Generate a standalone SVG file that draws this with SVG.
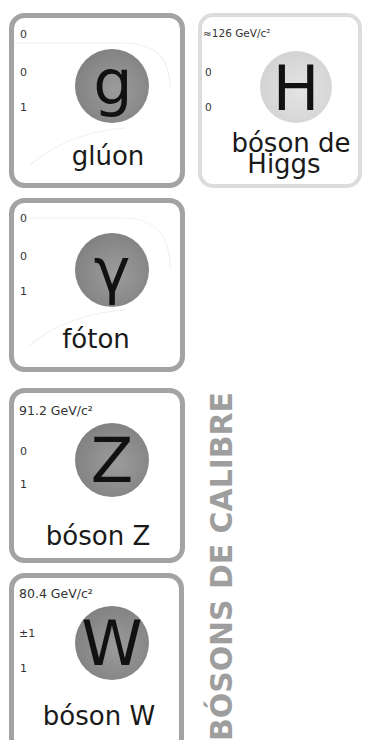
<svg xmlns="http://www.w3.org/2000/svg" width="366" height="740" viewBox="0 0 366 740">
<defs>
<radialGradient id="gDark" cx="0.55" cy="0.55" r="0.6">
<stop offset="0" stop-color="#9c9c9c"/>
<stop offset="1" stop-color="#808080"/>
</radialGradient>
<radialGradient id="gLight" cx="0.55" cy="0.55" r="0.6">
<stop offset="0" stop-color="#e4e4e4"/>
<stop offset="1" stop-color="#d2d2d2"/>
</radialGradient>
<style>
.box{fill:#ffffff;stroke:#a3a3a3;stroke-width:5}
.boxH{fill:#ffffff;stroke:#dcdcdc;stroke-width:4}
.gloss{fill:none;stroke:#f0f0f0;stroke-width:1.2}
.small{font-family:"DejaVu Sans",sans-serif;font-size:11px;fill:#333333}
.mass{font-family:"DejaVu Sans",sans-serif;font-size:12.5px;fill:#333333}
.hs{font-family:"DejaVu Sans",sans-serif;font-size:10.5px;fill:#333333}
.sym{font-family:"DejaVu Sans",sans-serif;font-size:62px;fill:#111111;text-anchor:middle}
.name{font-family:"DejaVu Sans",sans-serif;font-size:26px;fill:#1a1a1a;text-anchor:middle}
.side{font-family:"DejaVu Sans",sans-serif;font-weight:bold;font-size:31px;fill:#9e9e9e}
</style>
</defs>
<rect width="366" height="740" fill="#ffffff"/>

<g id="gluon">
<rect class="box" x="11.5" y="15.5" width="171" height="170" rx="13"/>
<path class="gloss" d="M14,43 H122 C158,43 170,60 170,88 M30,165 C60,140 95,130 125,128"/>
<circle cx="112" cy="86" r="37" fill="url(#gDark)"/>
<text class="sym" x="113" y="104">g</text>
<text class="small" x="20" y="38">0</text>
<text class="small" x="20" y="76">0</text>
<text class="small" x="20" y="111">1</text>
<text class="name" x="108" y="165">glúon</text>
</g>

<g id="higgs">
<rect class="boxH" x="200" y="15" width="160" height="171" rx="13"/>
<circle cx="296" cy="87" r="36" fill="url(#gLight)"/>
<text class="sym" x="296" y="110">H</text>
<text class="hs" x="203" y="37">≈126 GeV/c²</text>
<text class="hs" x="205" y="76">0</text>
<text class="hs" x="205" y="111">0</text>
<text class="name" x="291" y="152">bóson de</text>
<text class="name" x="284" y="173">Higgs</text>
</g>

<g id="photon">
<rect class="box" x="11.5" y="200.5" width="171" height="169" rx="13"/>
<path class="gloss" d="M30,218 H122 C158,218 170,238 170,268 M30,345 C60,320 95,312 125,310"/>
<circle cx="112" cy="270" r="37" fill="url(#gDark)"/>
<text class="sym" x="112" y="292">γ</text>
<text class="small" x="20" y="222">0</text>
<text class="small" x="20" y="260">0</text>
<text class="small" x="20" y="295">1</text>
<text class="name" x="96" y="348">fóton</text>
</g>

<g id="zboson">
<rect class="box" x="11.5" y="390.5" width="171" height="170" rx="13"/>
<circle cx="112" cy="460" r="37" fill="url(#gDark)"/>
<text class="sym" x="112" y="482">Z</text>
<text class="mass" x="19" y="415">91.2 GeV/c²</text>
<text class="small" x="20" y="455">0</text>
<text class="small" x="20" y="488">1</text>
<text class="name" x="98" y="545">bóson Z</text>
</g>

<g id="wboson">
<rect class="box" x="11.5" y="575.5" width="170" height="175" rx="13"/>
<circle cx="112" cy="643" r="37" fill="url(#gDark)"/>
<text class="sym" x="112" y="665">W</text>
<text class="mass" x="19" y="598">80.4 GeV/c²</text>
<text class="small" x="19" y="637">±1</text>
<text class="small" x="20" y="672">1</text>
<text class="name" x="99" y="725">bóson W</text>
</g>

<g id="label">
<text class="side" transform="translate(232,741) rotate(-90)" textLength="349" lengthAdjust="spacingAndGlyphs">BÓSONS DE CALIBRE</text>
</g>
<g id="connectors"/>
</svg>
